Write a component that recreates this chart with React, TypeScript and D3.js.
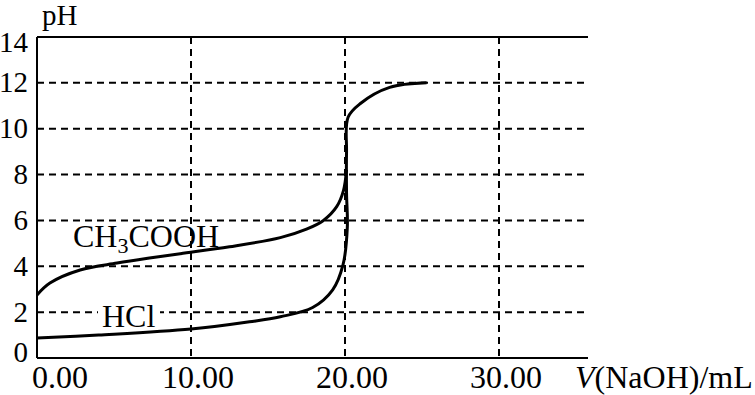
import React from 'react';
import * as d3 from 'd3';

// titration curves: volume of NaOH (mL) and pH
const hclVolume = [0, 4, 10, 13.8, 15.8, 17.9, 19.2, 19.87, 20.15, 20.1, 20.1, 20.2, 21.0, 22.9, 25.3];
const hclPH = [0.87, 1.0, 1.26, 1.58, 1.8, 2.2, 2.97, 4.06, 5.7, 7.2, 9.0, 10.5, 11.1, 11.8, 12.0];

const acidVolume = [0, 0.84, 2.8, 5.2, 7.3, 9.3, 12.5, 15.8, 17.5, 18.6, 19.46, 19.9, 20.1];
const acidPH = [2.75, 3.27, 3.84, 4.14, 4.36, 4.55, 4.85, 5.25, 5.62, 6.0, 6.6, 7.3, 8.2];

const xTicks = [0, 10, 20, 30];
const xTickLabels = ['0.00', '10.00', '20.00', '30.00'];
const yTicks = [0, 2, 4, 6, 8, 10, 12, 14];

const width = 755;
const height = 395;
const font = '"Liberation Serif", "Times New Roman", serif';

const App = () => {
  const x = d3.scaleLinear().domain([0, 30]).range([37, 499]);
  const y = d3.scaleLinear().domain([0, 14]).range([358, 37]);
  const xEnd = 588;

  const line = d3.line<[number, number]>()
    .x(d => x(d[0]))
    .y(d => y(d[1]))
    .curve(d3.curveCatmullRom.alpha(0.5));

  const hcl = hclVolume.map((v, i) => [v, hclPH[i]] as [number, number]);
  const acid = acidVolume.map((v, i) => [v, acidPH[i]] as [number, number]);

  return (
    <svg width={width} height={height} style={{ position: 'absolute', left: 0, top: 0, background: '#fff' }}
      fontFamily={font} fontSize={32}>
      {/* dashed grid */}
      {yTicks.filter(t => t > 0 && t < 14).map(t => (
        <line key={'h' + t} x1={x(0)} x2={xEnd} y1={y(t)} y2={y(t)}
          stroke="#000" strokeWidth={2} strokeDasharray="7,5" />
      ))}
      {xTicks.filter(t => t > 0).map(t => (
        <line key={'v' + t} x1={x(t)} x2={x(t)} y1={y(14)} y2={y(0)}
          stroke="#000" strokeWidth={2} strokeDasharray="7,5" />
      ))}

      {/* frame */}
      <line x1={x(0)} x2={xEnd} y1={y(14)} y2={y(14)} stroke="#000" strokeWidth={2} />
      <line x1={x(0)} x2={xEnd} y1={y(0)} y2={y(0)} stroke="#000" strokeWidth={2} />
      <line x1={x(0)} x2={x(0)} y1={y(14)} y2={y(0)} stroke="#000" strokeWidth={2} />

      {/* curves */}
      <path d={line(hcl) ?? ''} fill="none" stroke="#000" strokeWidth={3} />
      <path d={line(acid) ?? ''} fill="none" stroke="#000" strokeWidth={3} />

      {/* y tick labels */}
      {yTicks.map(t => (
        <text key={'yl' + t} x={28} y={Math.min(Math.max(y(t), 42), 352)} dy="0.33em"
          textAnchor="end" fontSize={29}>{t}</text>
      ))}
      <text x={42} y={25} fontSize={29}>pH</text>

      {/* x tick labels */}
      {xTicks.map((t, i) => (
        <text key={'xl' + t} x={Math.max(x(t) + 7, 60)} y={388} textAnchor="middle">{xTickLabels[i]}</text>
      ))}
      <text x={575} y={388}><tspan fontStyle="italic">V</tspan>(NaOH)/mL</text>

      {/* curve labels */}
      <text x={73} y={247}>CH<tspan fontSize={22} dy={6}>3</tspan><tspan dy={-6}>COOH</tspan></text>
      <rect x={98} y={300} width={62} height={26} fill="#fff" />
      <text x={102} y={327}>HCl</text>
    </svg>
  );
};

export default App;
